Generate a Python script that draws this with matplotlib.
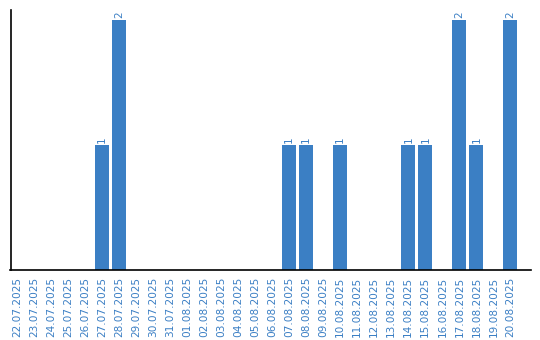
import matplotlib

matplotlib.use("Agg")
import matplotlib.pyplot as plt

dates = [
    "22.07.2025", "23.07.2025", "24.07.2025", "25.07.2025", "26.07.2025",
    "27.07.2025", "28.07.2025", "29.07.2025", "30.07.2025", "31.07.2025",
    "01.08.2025", "02.08.2025", "03.08.2025", "04.08.2025", "05.08.2025",
    "06.08.2025", "07.08.2025", "08.08.2025", "09.08.2025", "10.08.2025",
    "11.08.2025", "12.08.2025", "13.08.2025", "14.08.2025", "15.08.2025",
    "16.08.2025", "17.08.2025", "18.08.2025", "19.08.2025", "20.08.2025",
]
counts = [0, 0, 0, 0, 0, 1, 2, 0, 0, 0,
          0, 0, 0, 0, 0, 0, 1, 1, 0, 1,
          0, 0, 0, 1, 1, 0, 2, 1, 0, 2]

blue = "#3b7fc4"

fig = plt.figure(figsize=(5.4, 3.4), dpi=100)
ax = fig.add_axes([10.5 / 540, 70 / 340, 520 / 540, 260 / 340])

x = list(range(len(dates)))
bars = ax.bar(x, counts, width=0.82, color=blue)

for bar, value in zip(bars, counts):
    if value:
        ax.text(bar.get_x() + bar.get_width() / 2, bar.get_height() + 0.02,
                str(value), rotation=90, ha="center", va="bottom",
                fontsize=7.5, color=blue)

ax.set_xlim(-0.38, 30.18)
ax.set_ylim(0, 2.08)
ax.set_xticks(x)
ax.set_xticklabels(dates, rotation=90, fontsize=7.6, color=blue)
ax.tick_params(axis="x", length=0, pad=5)
ax.set_yticks([])
ax.spines["top"].set_visible(False)
ax.spines["right"].set_visible(False)
ax.spines["left"].set_linewidth(1.2)
ax.spines["bottom"].set_linewidth(1.2)

fig.savefig("out.png", dpi=100)
